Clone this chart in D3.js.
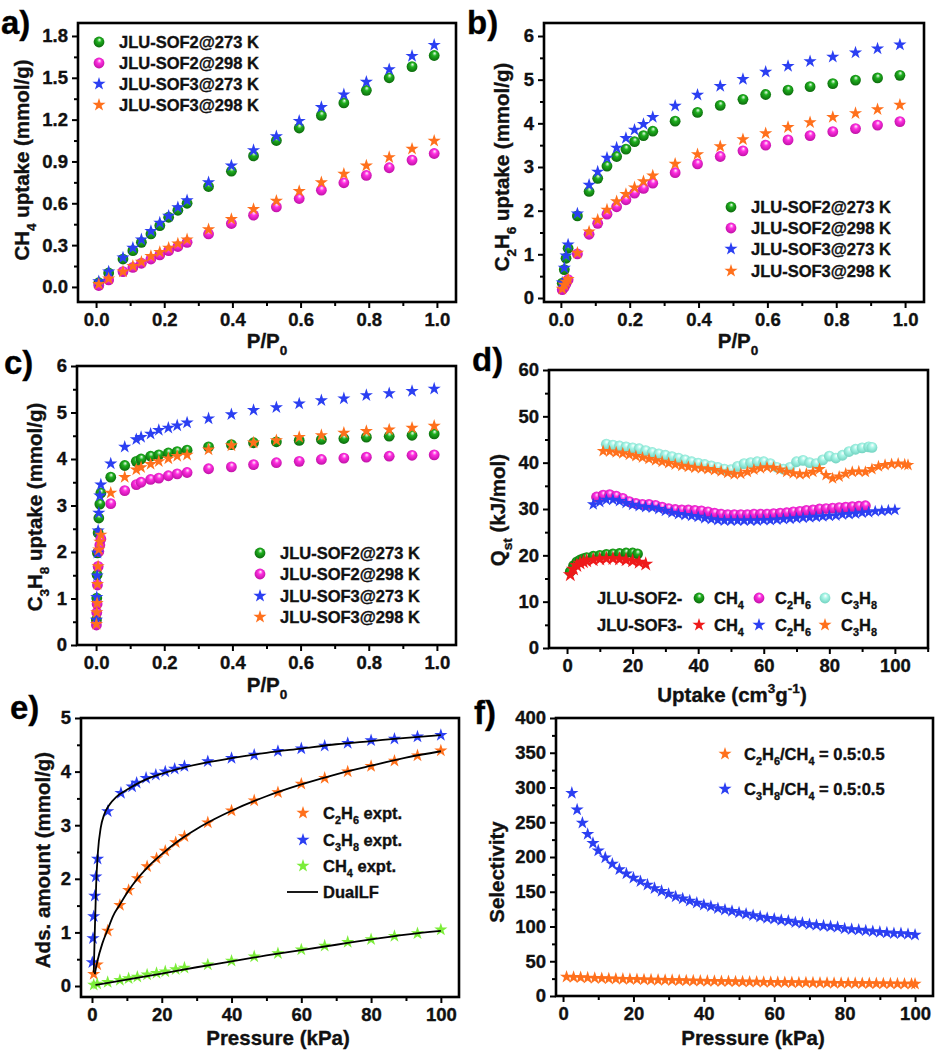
<!DOCTYPE html>
<html><head><meta charset="utf-8">
<script src="https://cdn.jsdelivr.net/npm/d3@7"></script>
<style>
body{margin:0;background:#fff}
svg{display:block;font-family:"Liberation Sans",Arial,sans-serif;font-weight:bold}
svg text{stroke:#111;stroke-width:0.35px}
</style>
</head><body><svg id="fig" width="939" height="1053"></svg>
<script>
// ---- a) CH4 isotherms ----
var aP = [0.008,0.037,0.079,0.108,0.133,0.161,0.187,0.213,0.240,0.267,0.330,0.397,0.462,0.529,0.596,0.661,0.727,0.793,0.860,0.927,0.992];
var aSof2_273 = [0.03,0.10,0.20,0.26,0.32,0.38,0.44,0.50,0.55,0.60,0.72,0.83,0.94,1.05,1.14,1.23,1.32,1.41,1.50,1.58,1.66];
var aSof2_298 = [0.01,0.05,0.11,0.14,0.17,0.20,0.23,0.26,0.29,0.32,0.38,0.455,0.515,0.574,0.634,0.694,0.747,0.80,0.855,0.91,0.957];
var aSof3_273 = [0.04,0.11,0.21,0.28,0.34,0.40,0.46,0.51,0.57,0.62,0.75,0.87,0.98,1.08,1.19,1.29,1.38,1.47,1.56,1.656,1.735];
var aSof3_298 = [0.02,0.06,0.11,0.15,0.18,0.22,0.25,0.28,0.31,0.34,0.412,0.486,0.558,0.617,0.687,0.75,0.81,0.87,0.93,0.99,1.048];

// ---- b) C2H6 isotherms ----
var bP = [0.004,0.010,0.015,0.021,0.048,0.082,0.107,0.134,0.162,0.189,0.214,0.240,0.267,0.332,0.397,0.463,0.529,0.595,0.660,0.724,0.790,0.856,0.920,0.985];
var bSof2_273 = [0.34,0.65,0.91,1.14,1.88,2.44,2.74,3.02,3.24,3.41,3.58,3.72,3.82,4.05,4.25,4.41,4.55,4.66,4.76,4.84,4.91,4.99,5.04,5.10];
var bSof2_298 = [0.19,0.25,0.33,0.42,1.01,1.46,1.71,1.92,2.09,2.25,2.40,2.51,2.63,2.87,3.07,3.24,3.37,3.50,3.62,3.72,3.81,3.88,3.96,4.04];
var bSof3_273 = [0.35,0.69,0.97,1.22,1.93,2.59,2.89,3.21,3.44,3.66,3.85,3.98,4.14,4.40,4.65,4.85,5.01,5.18,5.31,5.42,5.52,5.62,5.71,5.80];
var bSof3_298 = [0.21,0.30,0.37,0.43,1.03,1.52,1.79,2.02,2.21,2.38,2.53,2.67,2.80,3.07,3.29,3.47,3.63,3.77,3.91,4.02,4.14,4.23,4.32,4.42];

// ---- c) C3H8 isotherms ----
var cP = [0.001,0.002,0.003,0.004,0.006,0.008,0.011,0.014,0.043,0.084,0.118,0.132,0.160,0.184,0.212,0.238,0.267,0.330,0.397,0.462,0.529,0.596,0.661,0.727,0.793,0.860,0.927,0.992];
var cSof2_273 = [0.54,1.01,1.51,1.98,2.41,2.73,3.03,3.27,3.61,3.86,3.95,4.00,4.06,4.09,4.13,4.16,4.19,4.26,4.31,4.35,4.37,4.40,4.42,4.44,4.47,4.49,4.51,4.54];
var cSof2_298 = [0.43,0.70,0.88,1.29,1.69,2.01,2.15,2.28,3.04,3.32,3.45,3.50,3.56,3.59,3.64,3.68,3.71,3.79,3.83,3.88,3.92,3.95,3.99,4.02,4.04,4.06,4.08,4.09];
var cSof3_273 = [0.54,1.03,1.49,1.98,2.46,2.84,3.21,3.45,3.90,4.26,4.42,4.47,4.54,4.62,4.67,4.72,4.78,4.87,4.96,5.05,5.11,5.19,5.26,5.30,5.37,5.41,5.46,5.51];
var cSof3_298 = [0.45,0.70,0.90,1.31,1.69,2.05,2.22,2.37,3.27,3.61,3.77,3.82,3.89,3.95,4.01,4.06,4.09,4.20,4.29,4.35,4.40,4.47,4.51,4.56,4.60,4.63,4.67,4.71];

// ---- d) Qst vs uptake, [uptake, Qst] ----
var dSof2CH4 = [[1,16.5],[2,17.8],[3,18.6],[4,19.0],[5,19.3],[6,19.5],[8,19.8],[10,20.0],[12,20.2],[14,20.3],[16,20.4],[18,20.5],[20,20.5],[21.5,20.3]];
var dSof2C2H6 = [[9,32.6],[11,33.0],[13,33.1],[15,32.8],[17,32.3],[19,31.6],[21,31.2],[23,31.0],[25,31.0],[27,30.8],[29,30.4],[31,30.1],[33,29.9],[35,29.8],[37,29.8],[39,29.7],[41,29.6],[43,29.4],[45,29.1],[47,28.9],[49,28.8],[51,28.8],[53,28.8],[55,28.8],[57,28.9],[59,28.9],[61,28.9],[63,29.0],[65,29.1],[67,29.2],[69,29.4],[71,29.5],[73,29.7],[75,29.8],[77,30.0],[79,30.1],[81,30.2],[83,30.3],[85,30.4],[87,30.5],[89,30.6],[91,30.7]];
var dSof2C3H8 = [[12,44.0],[14,43.8],[16,43.6],[18,43.4],[20,43.2],[22,43.0],[24,42.6],[26,42.2],[28,41.9],[30,41.6],[32,41.3],[34,41.0],[36,40.6],[38,40.2],[40,39.9],[42,39.6],[44,39.3],[46,39.0],[48,38.6],[50,38.5],[52,39.2],[54,39.8],[56,40.0],[58,40.2],[60,40.2],[62,39.8],[64,39.0],[66,38.6],[68,39.0],[70,40.2],[72,40.5],[74,40.0],[76,39.8],[78,40.6],[80,41.4],[82,41.0],[84,41.6],[86,42.4],[88,42.9],[90,43.2],[92,43.4],[93,43.3]];
var dSof3CH4 = [[1,15.8],[2,17.0],[3,17.8],[4,18.3],[5,18.6],[6,18.8],[8,19.0],[10,19.2],[12,19.3],[14,19.3],[16,19.2],[18,19.0],[20,18.8],[22,18.5],[24,18.1]];
var dSof3C2H6 = [[8,31.0],[10,31.5],[12,32.0],[14,32.0],[16,31.7],[18,31.3],[20,30.9],[22,30.6],[24,30.4],[26,30.3],[28,30.0],[30,29.6],[32,29.2],[34,28.9],[36,28.7],[38,28.5],[40,28.3],[42,28.0],[44,27.8],[46,27.6],[48,27.5],[50,27.5],[52,27.5],[54,27.5],[56,27.5],[58,27.5],[60,27.6],[62,27.6],[64,27.7],[66,27.8],[68,27.9],[70,28.0],[72,28.1],[74,28.2],[76,28.3],[78,28.4],[80,28.5],[82,28.6],[84,28.8],[86,28.9],[88,29.0],[90,29.2],[92,29.3],[94,29.5],[96,29.6],[98,29.7],[100,29.8]];
var dSof3C3H8 = [[11,42.5],[13,42.4],[15,42.2],[17,42.0],[19,41.7],[21,41.4],[23,41.1],[25,40.8],[27,40.5],[29,40.2],[31,39.9],[33,39.6],[35,39.3],[37,39.1],[39,38.9],[41,38.8],[43,38.6],[45,38.4],[47,38.1],[49,37.8],[51,37.5],[53,37.6],[55,38.0],[57,38.5],[59,38.8],[61,39.0],[63,38.9],[65,38.5],[67,38.0],[69,37.7],[71,37.5],[73,37.6],[75,38.0],[77,38.6],[79,37.3],[81,36.6],[83,37.0],[85,37.6],[87,38.0],[89,38.1],[91,38.0],[93,38.6],[95,39.2],[97,39.5],[99,39.7],[101,39.8],[103,39.6],[104,39.5]];

// ---- e) JLU-SOF3 experimental points + DualLF fits ----
var eP_C3H8 = [0.1,0.3,0.5,0.8,1.1,1.6,4.5,8.3,11.5,12.8,15.5,18.3,21,23.7,26.5,33.2,40,46.5,53.3,60,66.7,73.3,80,86.7,93.3,100];
var eC3H8 = [0.44,0.89,1.30,1.68,2.04,2.37,3.26,3.60,3.72,3.79,3.88,3.94,4.00,4.05,4.10,4.19,4.25,4.31,4.38,4.43,4.48,4.53,4.58,4.61,4.65,4.68];
var eP_C2H6 = [0.5,1.5,4.5,8,10.5,13,15.8,18.5,21,24,26.5,33.2,40,46.5,53.3,60,66.7,73.3,80,86.7,93.3,100];
var eC2H6 = [0.22,0.40,1.03,1.51,1.79,2.01,2.23,2.38,2.52,2.68,2.79,3.05,3.27,3.46,3.61,3.77,3.88,4.00,4.10,4.20,4.30,4.39];
var eCH4 = [0.02,0.04,0.07,0.11,0.14,0.17,0.21,0.24,0.27,0.31,0.34,0.40,0.47,0.55,0.61,0.68,0.75,0.82,0.87,0.93,0.98,1.05];
var eFitC3H8 = [[0.5,0.25],[0.8,1.0],[1.2,1.9],[1.7,2.5],[2.5,2.95],[3.5,3.2],[5,3.38],[7,3.53],[10,3.66],[15,3.84],[20,3.96],[26,4.07],[33,4.17],[40,4.25],[50,4.35],[60,4.43],[70,4.51],[80,4.57],[90,4.63],[100,4.68]];
var eFitC2H6 = [[0.8,0.22],[1.5,0.45],[3,0.8],[4.5,1.05],[6,1.3],[8,1.52],[10.5,1.78],[13,2.0],[16,2.22],[20,2.46],[25,2.72],[30,2.93],[35,3.11],[40,3.27],[50,3.54],[60,3.76],[70,3.95],[80,4.11],[90,4.26],[100,4.38]];
var eFitCH4 = [[1,0.02],[10,0.12],[20,0.23],[30,0.35],[40,0.46],[50,0.57],[60,0.67],[70,0.77],[80,0.87],[90,0.96],[100,1.03]];

// ---- f) IAST selectivity ----
var fC3H8 = [[2.5,292],[4,268],[5.5,249],[7,233],[8.5,220],[10,209],[12,199],[14,190],[16,182],[18,176],[20,170],[22,165],[24,160],[26,155],[28,151],[30,147],[32,143],[34,140],[36,137],[38,134],[40,131],[42,129],[44,126],[46,124],[48,122],[50,120],[52,118],[54,116],[56,114],[58,112],[60,111],[62,109],[64,108],[66,106],[68,105],[70,103],[72,102],[74,101],[76,100],[78,99],[80,97],[82,96],[84,95],[86,94],[88,93],[90,92],[92,91],[94,90],[96,90],[98,89],[100,88]];
var fC2H6 = [[1,27.5],[3,27.0],[5,26.6],[7,26.2],[9,25.8],[11,25.4],[13,25.0],[15,24.7],[17,24.4],[19,24.1],[21,23.8],[23,23.5],[25,23.3],[27,23.0],[29,22.8],[31,22.6],[33,22.3],[35,22.1],[37,21.9],[39,21.7],[41,21.5],[43,21.3],[45,21.1],[47,20.9],[49,20.7],[51,20.5],[53,20.4],[55,20.2],[57,20.0],[59,19.9],[61,19.7],[63,19.6],[65,19.4],[67,19.3],[69,19.1],[71,19.0],[73,18.9],[75,18.7],[77,18.6],[79,18.5],[81,18.4],[83,18.3],[85,18.1],[87,18.0],[89,17.9],[91,17.8],[93,17.7],[95,17.6],[97,17.5],[99,17.4],[100,17.3]];

var legendIso = ["JLU-SOF2@273 K", "JLU-SOF2@298 K", "JLU-SOF3@273 K", "JLU-SOF3@298 K"];

var BLUE = "#2b3ff2", ORANGE = "#ff701c", RED = "#ee1a1a", LIME = "#7ced3a";
var TICK_FS = 18.5, TITLE_FS = 20.5, LEG_FS = 16.5;
var svg = d3.select('#fig');
svg.append('rect').attr('width', 939).attr('height', 1053).attr('fill', '#fff');
var defs = svg.append('defs');

// shaded sphere gradients
var sphereColors = {green: ['#f2fff2', '#1fb01f', '#0a620a'], pink: ['#fff4fd', '#ff2ee0', '#b80ea0'], cyan: ['#ffffff', '#aaf6e8', '#6ccfbc']};
Object.keys(sphereColors).forEach(function (k) {
    var c = sphereColors[k];
    var gr = defs.append('radialGradient').attr('id', 'sph-' + k)
        .attr('cx', '0.5').attr('cy', '0.45').attr('r', '0.6')
        .attr('fx', '0.55').attr('fy', '0.28');
    gr.append('stop').attr('offset', '0%').attr('stop-color', c[0]);
    gr.append('stop').attr('offset', '35%').attr('stop-color', c[1]);
    gr.append('stop').attr('offset', '100%').attr('stop-color', c[2]);
});

function rich(sel, parts, fs) {
    var cur = 0;
    parts.forEach(function (p) {
        var mode = typeof p === 'string' ? null : p[1];
        var str = typeof p === 'string' ? p : p[0];
        var target = mode === 'sub' ? fs * 0.32 : (mode === 'sup' ? -fs * 0.42 : 0);
        sel.append('tspan')
            .attr('dy', target - cur)
            .attr('font-size', mode ? fs * 0.66 : fs)
            .text(str);
        cur = target;
    });
    return sel;
}

function makePanel(cfg) {
    var g = svg.append('g');
    var x = d3.scaleLinear().domain(cfg.xDom).range([cfg.l, cfg.r]);
    var y = d3.scaleLinear().domain(cfg.yDom).range([cfg.b, cfg.t]);

    var xm = g.append('g').attr('transform', 'translate(0,' + cfg.b + ')')
        .call(d3.axisBottom(x).tickValues(cfg.xMinor).tickSize(4).tickFormat(''));
    var xa = g.append('g').attr('transform', 'translate(0,' + cfg.b + ')')
        .call(d3.axisBottom(x).tickValues(cfg.xTicks).tickSize(6).tickPadding(5).tickFormat(d3.format(cfg.xFmt)));
    var ym = g.append('g').attr('transform', 'translate(' + cfg.l + ',0)')
        .call(d3.axisLeft(y).tickValues(cfg.yMinor).tickSize(4).tickFormat(''));
    var ya = g.append('g').attr('transform', 'translate(' + cfg.l + ',0)')
        .call(d3.axisLeft(y).tickValues(cfg.yTicks).tickSize(6).tickPadding(4).tickFormat(d3.format(cfg.yFmt)));
    [xm, xa, ym, ya].forEach(function (a) {
        a.select('.domain').remove();
        a.selectAll('line').attr('stroke', '#000').attr('stroke-width', 2);
        a.selectAll('text').attr('fill', '#111').attr('font-size', TICK_FS)
            .attr('font-family', '"Liberation Sans",Arial,sans-serif').attr('font-weight', 'bold');
    });

    g.append('rect').attr('x', cfg.l).attr('y', cfg.t)
        .attr('width', cfg.r - cfg.l).attr('height', cfg.b - cfg.t)
        .attr('fill', 'none').attr('stroke', '#000').attr('stroke-width', 2.6);

    g.append('text').attr('x', cfg.lab[0]).attr('y', cfg.lab[1])
        .attr('font-size', 33).attr('fill', '#000').text(cfg.label);

    rich(g.append('text').attr('x', cfg.xt[0]).attr('y', cfg.xt[1])
        .attr('text-anchor', 'middle').attr('fill', '#111'), cfg.xTitle, TITLE_FS);
    rich(g.append('text').attr('transform', 'translate(' + cfg.yt[0] + ',' + cfg.yt[1] + ') rotate(-90)')
        .attr('text-anchor', 'middle').attr('fill', '#111'), cfg.yTitle, TITLE_FS);

    var plot = g.append('g');
    return {g: plot, root: g, x: x, y: y};
}

function marker(g, kind, color, cx, cy, size) {
    if (kind === 'sphere') {
        g.append('circle').attr('cx', cx).attr('cy', cy).attr('r', size)
            .attr('fill', 'url(#sph-' + color + ')');
    } else {
        g.append('path').attr('transform', 'translate(' + cx + ',' + cy + ')')
            .attr('d', d3.symbol().type(d3.symbolStar).size(size)())
            .attr('fill', color);
    }
}

function drawPairs(p, pts, kind, color, size) {
    var grp = p.g.append('g');
    pts.forEach(function (d) {
        marker(grp, kind, color, p.x(d[0]), p.y(d[1]), size);
    });
}

function drawSeries(p, xs, ys, kind, color, size) {
    drawPairs(p, xs.map(function (v, i) { return [v, ys[i]]; }), kind, color, size);
}

function legendRows(p, x0, tx, rows, fs) {
    rows.forEach(function (r) {
        marker(p.root, r.kind, r.color, x0, r.y, r.size);
        rich(p.root.append('text').attr('x', tx).attr('y', r.y + fs * 0.36).attr('fill', '#111'), r.text, fs);
    });
}

function range(a, b, s) { return d3.range(a, b + s / 2, s); }

var PP0 = ["P/P", ["0", "sub"]];
var SPH = 5.4, STAR = 54;

// ---------- a ----------
var pa = makePanel({l: 78, t: 23, r: 456, b: 302, xDom: [-0.053, 1.056], yDom: [-0.108, 1.893],
    xTicks: range(0, 1, 0.2), xMinor: range(0.1, 0.9, 0.2), yTicks: range(0, 1.8, 0.3), yMinor: range(0.15, 1.65, 0.3),
    xFmt: '.1f', yFmt: '.1f', label: 'a)', lab: [1, 34], xt: [267, 348], yt: [29, 160],
    xTitle: PP0, yTitle: ["CH", ["4", "sub"], " uptake (mmol/g)"]});
drawSeries(pa, aP, aSof2_273, 'sphere', 'green', SPH);
drawSeries(pa, aP, aSof2_298, 'sphere', 'pink', SPH);
drawSeries(pa, aP, aSof3_273, 'star', BLUE, STAR);
drawSeries(pa, aP, aSof3_298, 'star', ORANGE, STAR);
legendRows(pa, 99, 119, [
    {kind: 'sphere', color: 'green', size: SPH, y: 42, text: [legendIso[0]]},
    {kind: 'sphere', color: 'pink', size: SPH, y: 63, text: [legendIso[1]]},
    {kind: 'star', color: BLUE, size: STAR, y: 84, text: [legendIso[2]]},
    {kind: 'star', color: ORANGE, size: STAR, y: 105, text: [legendIso[3]]}], LEG_FS);

// ---------- b ----------
var pb = makePanel({l: 544, t: 23, r: 924, b: 302, xDom: [-0.049, 1.055], yDom: [-0.092, 6.298],
    xTicks: range(0, 1, 0.2), xMinor: range(0.1, 0.9, 0.2), yTicks: range(0, 6, 1), yMinor: range(0.5, 5.5, 1),
    xFmt: '.1f', yFmt: 'd', label: 'b)', lab: [467, 34], xt: [738, 348], yt: [509, 167],
    xTitle: PP0, yTitle: ["C", ["2", "sub"], "H", ["6", "sub"], " uptake (mmol/g)"]});
drawSeries(pb, bP, bSof2_273, 'sphere', 'green', SPH);
drawSeries(pb, bP, bSof2_298, 'sphere', 'pink', SPH);
drawSeries(pb, bP, bSof3_273, 'star', BLUE, STAR);
drawSeries(pb, bP, bSof3_298, 'star', ORANGE, STAR);
legendRows(pb, 731, 751, [
    {kind: 'sphere', color: 'green', size: SPH, y: 207, text: [legendIso[0]]},
    {kind: 'sphere', color: 'pink', size: SPH, y: 228, text: [legendIso[1]]},
    {kind: 'star', color: BLUE, size: STAR, y: 249, text: [legendIso[2]]},
    {kind: 'star', color: ORANGE, size: STAR, y: 271, text: [legendIso[3]]}], LEG_FS);

// ---------- c ----------
var pc = makePanel({l: 77, t: 366, r: 456, b: 645, xDom: [-0.056, 1.056], yDom: [0, 6],
    xTicks: range(0, 1, 0.2), xMinor: range(0.1, 0.9, 0.2), yTicks: range(0, 6, 1), yMinor: range(0.5, 5.5, 1),
    xFmt: '.1f', yFmt: 'd', label: 'c)', lab: [4, 374], xt: [267, 692], yt: [42, 507],
    xTitle: PP0, yTitle: ["C", ["3", "sub"], "H", ["8", "sub"], " uptake (mmol/g)"]});
drawSeries(pc, cP, cSof2_273, 'sphere', 'green', SPH);
drawSeries(pc, cP, cSof2_298, 'sphere', 'pink', SPH);
drawSeries(pc, cP, cSof3_273, 'star', BLUE, STAR);
drawSeries(pc, cP, cSof3_298, 'star', ORANGE, STAR);
legendRows(pc, 260, 280, [
    {kind: 'sphere', color: 'green', size: SPH, y: 553, text: [legendIso[0]]},
    {kind: 'sphere', color: 'pink', size: SPH, y: 574, text: [legendIso[1]]},
    {kind: 'star', color: BLUE, size: STAR, y: 596, text: [legendIso[2]]},
    {kind: 'star', color: ORANGE, size: STAR, y: 617, text: [legendIso[3]]}], LEG_FS);

// ---------- d ----------
var pd = makePanel({l: 549, t: 370, r: 928, b: 648, xDom: [-5.5, 110.1], yDom: [0, 60],
    xTicks: range(0, 100, 20), xMinor: range(10, 110, 20), yTicks: range(0, 60, 10), yMinor: range(5, 55, 10),
    xFmt: 'd', yFmt: 'd', label: 'd)', lab: [472, 371], xt: [732, 702], yt: [505, 510],
    xTitle: ["Uptake (cm", ["3", "sup"], "g", ["-1", "sup"], ")"], yTitle: ["Q", ["st", "sub"], " (kJ/mol)"]});
var DSTAR = 50;
drawPairs(pd, dSof2CH4, 'sphere', 'green', SPH);
drawPairs(pd, dSof2C2H6, 'sphere', 'pink', SPH);
drawPairs(pd, dSof2C3H8, 'sphere', 'cyan', SPH);
drawPairs(pd, dSof3CH4, 'star', RED, 70);
drawPairs(pd, dSof3C2H6, 'star', BLUE, DSTAR);
drawPairs(pd, dSof3C3H8, 'star', ORANGE, DSTAR);
var dRows = [
    {y: 598, name: "JLU-SOF2-", kind: 'sphere', cols: ['green', 'pink', 'cyan'], size: SPH},
    {y: 625, name: "JLU-SOF3-", kind: 'star', cols: [RED, BLUE, ORANGE], size: STAR}];
var dGases = [["CH", ["4", "sub"]], ["C", ["2", "sub"], "H", ["6", "sub"]], ["C", ["3", "sub"], "H", ["8", "sub"]]];
var dMarkX = [699, 759, 825], dTextX = [714, 775, 841];
dRows.forEach(function (r) {
    pd.root.append('text').attr('x', 597).attr('y', r.y + 6).attr('font-size', LEG_FS).attr('fill', '#111').text(r.name);
    r.cols.forEach(function (c, i) {
        marker(pd.root, r.kind, c, dMarkX[i], r.y, r.size);
        rich(pd.root.append('text').attr('x', dTextX[i]).attr('y', r.y + 6).attr('fill', '#111'), dGases[i], LEG_FS);
    });
});

// ---------- e ----------
var pe = makePanel({l: 81, t: 718, r: 459, b: 997, xDom: [-3.15, 105.2], yDom: [-0.205, 5],
    xTicks: range(0, 100, 20), xMinor: range(10, 90, 20), yTicks: range(0, 5, 1), yMinor: range(0.5, 4.5, 1),
    xFmt: 'd', yFmt: 'd', label: 'e)', lab: [10, 719], xt: [278, 1045], yt: [50, 860],
    xTitle: ["Pressure (kPa)"], yTitle: ["Ads. amount (mmol/g)"]});
drawSeries(pe, eP_C2H6, eC2H6, 'star', ORANGE, STAR);
drawSeries(pe, eP_C3H8, eC3H8, 'star', BLUE, STAR);
drawSeries(pe, eP_C2H6, eCH4, 'star', LIME, STAR);
var fitLine = d3.line().x(function (d) { return pe.x(d[0]); }).y(function (d) { return pe.y(d[1]); }).curve(d3.curveMonotoneX);
[eFitC3H8, eFitC2H6, eFitCH4].forEach(function (f) {
    pe.g.append('path').datum(f).attr('d', fitLine).attr('fill', 'none').attr('stroke', '#000').attr('stroke-width', 1.8);
});
legendRows(pe, 303, 323, [
    {kind: 'star', color: ORANGE, size: STAR, y: 813, text: ["C", ["2", "sub"], "H", ["6", "sub"], " expt."]},
    {kind: 'star', color: BLUE, size: STAR, y: 840, text: ["C", ["3", "sub"], "H", ["8", "sub"], " expt."]},
    {kind: 'star', color: LIME, size: STAR, y: 866, text: ["CH", ["4", "sub"], " expt."]}], LEG_FS);
pe.root.append('line').attr('x1', 287).attr('x2', 318).attr('y1', 892).attr('y2', 892).attr('stroke', '#000').attr('stroke-width', 1.8);
pe.root.append('text').attr('x', 323).attr('y', 898).attr('font-size', LEG_FS).attr('fill', '#111').text("DualLF");

// ---------- f ----------
var pf = makePanel({l: 556, t: 718, r: 933, b: 996, xDom: [-2.0, 105.1], yDom: [0, 400],
    xTicks: range(0, 100, 20), xMinor: range(10, 90, 20), yTicks: range(0, 400, 50), yMinor: range(25, 375, 50),
    xFmt: 'd', yFmt: 'd', label: 'f)', lab: [474, 724], xt: [753, 1045], yt: [504, 872],
    xTitle: ["Pressure (kPa)"], yTitle: ["Selectivity"]});
drawPairs(pf, fC2H6, 'star', ORANGE, STAR);
drawPairs(pf, fC3H8, 'star', BLUE, STAR);
legendRows(pf, 725, 744, [
    {kind: 'star', color: ORANGE, size: STAR, y: 754, text: ["C", ["2", "sub"], "H", ["6", "sub"], "/CH", ["4", "sub"], " = 0.5:0.5"]},
    {kind: 'star', color: BLUE, size: STAR, y: 789, text: ["C", ["3", "sub"], "H", ["8", "sub"], "/CH", ["4", "sub"], " = 0.5:0.5"]}], LEG_FS);
</script>
</body></html>
